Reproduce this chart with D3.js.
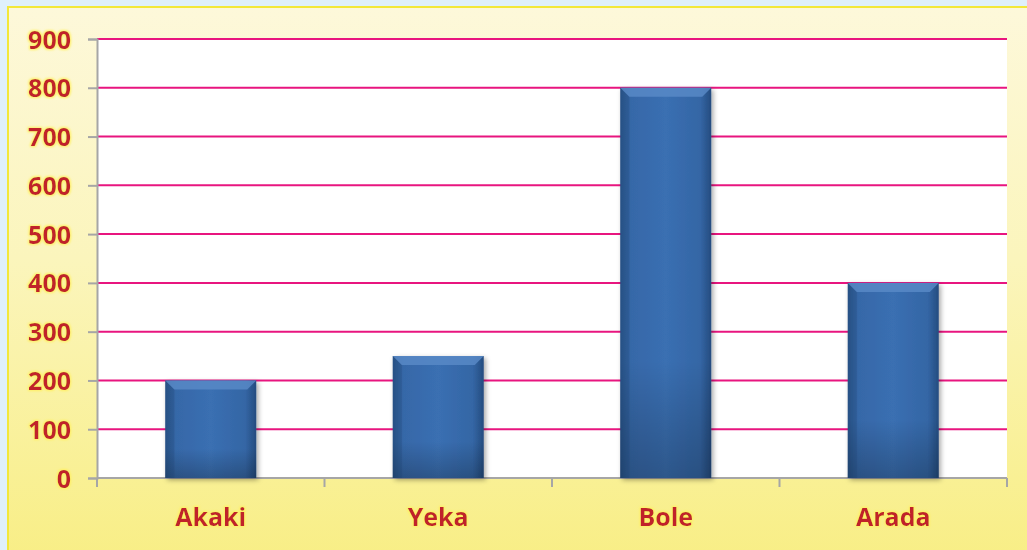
<!DOCTYPE html>
<html><head><meta charset="utf-8">
<script src="https://cdn.jsdelivr.net/npm/d3@7"></script>
<style>
html,body{margin:0;padding:0;background:#dff0fb;}
svg{display:block;}
</style></head>
<body><svg id="c" width="1027" height="550"></svg>
<script>
const categories = ["Akaki", "Yeka", "Bole", "Arada"];
const values = [200, 250, 800, 400];
const yTicks = [0, 100, 200, 300, 400, 500, 600, 700, 800, 900];

(function(){
const svg = d3.select("#c");
const defs = svg.append("defs");

const pg = defs.append("linearGradient").attr("id","panel").attr("x1",0).attr("y1",0).attr("x2",0).attr("y2",1);
pg.append("stop").attr("offset","0%").attr("stop-color","#fdf8da");
pg.append("stop").attr("offset","45%").attr("stop-color","#fbf5bc");
pg.append("stop").attr("offset","100%").attr("stop-color","#f8ee84");

const bg = defs.append("linearGradient").attr("id","bar").attr("x1",0).attr("y1",0).attr("x2",1).attr("y2",0);
bg.append("stop").attr("offset","0%").attr("stop-color","#2a5489");
bg.append("stop").attr("offset","12%").attr("stop-color","#3668a8");
bg.append("stop").attr("offset","50%").attr("stop-color","#3a6fb2");
bg.append("stop").attr("offset","88%").attr("stop-color","#3466a5");
bg.append("stop").attr("offset","100%").attr("stop-color","#254c7f");

const bv = defs.append("linearGradient").attr("id","barv").attr("x1",0).attr("y1",0).attr("x2",0).attr("y2",1);
bv.append("stop").attr("offset","0%").attr("stop-color","#ffffff").attr("stop-opacity",0.0);
bv.append("stop").attr("offset","70%").attr("stop-color","#000").attr("stop-opacity",0.0);
bv.append("stop").attr("offset","100%").attr("stop-color","#000").attr("stop-opacity",0.22);

const sh = defs.append("filter").attr("id","shadow").attr("x","-20%").attr("y","-5%").attr("width","140%").attr("height","115%");
sh.append("feDropShadow").attr("dx",2).attr("dy",2).attr("stdDeviation",2.5).attr("flood-color","#000").attr("flood-opacity",0.35);

const glow = defs.append("filter").attr("id","glow").attr("x","-20%").attr("y","-20%").attr("width","140%").attr("height","140%");
glow.append("feMorphology").attr("in","SourceAlpha").attr("operator","dilate").attr("radius",1.3).attr("result","d");
glow.append("feGaussianBlur").attr("in","d").attr("stdDeviation",1).attr("result","b");
glow.append("feFlood").attr("flood-color","#fff060").attr("flood-opacity",0.95);
glow.append("feComposite").attr("in2","b").attr("operator","in").attr("result","g");
const mg = glow.append("feMerge");
mg.append("feMergeNode").attr("in","g");
mg.append("feMergeNode").attr("in","SourceGraphic");

// panel
svg.append("rect").attr("x",8).attr("y",7).attr("width",1030).attr("height",560)
  .attr("fill","url(#panel)").attr("stroke","#f3e83a").attr("stroke-width",2);

const pLeft = 97, pRight = 1007, pTop = 39, pBottom = 478;
const x = d3.scaleBand().domain(categories).range([pLeft, pRight]).paddingInner(0.6).paddingOuter(0.3);
const xb = d3.scaleBand().domain(categories).range([pLeft, pRight]).padding(0);
const y = d3.scaleLinear().domain([0, 900]).range([pBottom, pTop]);

const font = "'Open Sans', 'DejaVu Sans', sans-serif";

// plot area
svg.append("rect").attr("x",pLeft).attr("y",pTop).attr("width",pRight-pLeft).attr("height",pBottom-pTop).attr("fill","#ffffff");

// gridlines
svg.append("g").selectAll("line").data(yTicks.filter(d=>d>0)).join("line")
  .attr("x1",pLeft).attr("x2",pRight).attr("y1",d=>y(d)).attr("y2",d=>y(d))
  .attr("stroke","#e8157f").attr("stroke-width",2);

// y axis
const yAxis = svg.append("g").attr("transform",`translate(${pLeft},0)`)
  .call(d3.axisLeft(y).tickValues(yTicks).tickSize(9).tickPadding(17));
yAxis.select(".domain").attr("stroke","#a6a6a6").attr("stroke-width",2);
yAxis.selectAll(".tick line").attr("stroke","#a6a6a6").attr("stroke-width",2);
yAxis.selectAll(".tick text").attr("fill","#c0242a").attr("font-family",font)
  .attr("font-weight","bold").attr("font-size","25px").attr("filter","url(#glow)").attr("dy","0.36em");

// x axis
const xAxisG = svg.append("g").attr("transform",`translate(0,${pBottom})`);
xAxisG.append("line").attr("x1",pLeft).attr("x2",pRight).attr("stroke","#a6a6a6").attr("stroke-width",2);
const bounds = categories.map(c=>xb(c)).concat([pRight]);
xAxisG.selectAll("line.t").data(bounds).join("line").attr("class","t")
  .attr("x1",d=>d).attr("x2",d=>d).attr("y1",0).attr("y2",9).attr("stroke","#a6a6a6").attr("stroke-width",2);
xAxisG.selectAll("text").data(categories).join("text")
  .attr("x",d=>xb(d)+xb.bandwidth()/2).attr("y",39).attr("dy","0.36em").attr("text-anchor","middle")
  .attr("fill","#c0242a").attr("font-family",font)
  .attr("font-weight","bold").attr("font-size","25px").attr("filter","url(#glow)").text(d=>d);

// bars
const bars = svg.append("g").selectAll("g").data(categories.map((c,i)=>({c, v: values[i]}))).join("g");
bars.append("rect").attr("x",d=>x(d.c)).attr("y",d=>y(d.v)).attr("width",x.bandwidth()).attr("height",d=>pBottom-y(d.v))
  .attr("fill","url(#bar)").attr("filter","url(#shadow)");
bars.append("rect").attr("x",d=>x(d.c)).attr("y",d=>y(d.v)).attr("width",x.bandwidth()).attr("height",d=>pBottom-y(d.v))
  .attr("fill","url(#barv)");
bars.append("path").attr("d",d=>{
  const x0=x(d.c), x1=x0+x.bandwidth(), y0=y(d.v);
  return `M${x0},${y0} L${x1},${y0} L${x1-9},${y0+9} L${x0+9},${y0+9} Z`;
}).attr("fill","#5a8bc8").attr("opacity",0.8);
bars.append("path").attr("d",d=>{
  const x0=x(d.c), x1=x0+x.bandwidth(), y0=y(d.v);
  return `M${x0},${y0} L${x0+9},${y0+9} L${x0+9},${pBottom} L${x0},${pBottom} Z`;
}).attr("fill","#1f4676").attr("opacity",0.25);
})();
</script></body></html>
